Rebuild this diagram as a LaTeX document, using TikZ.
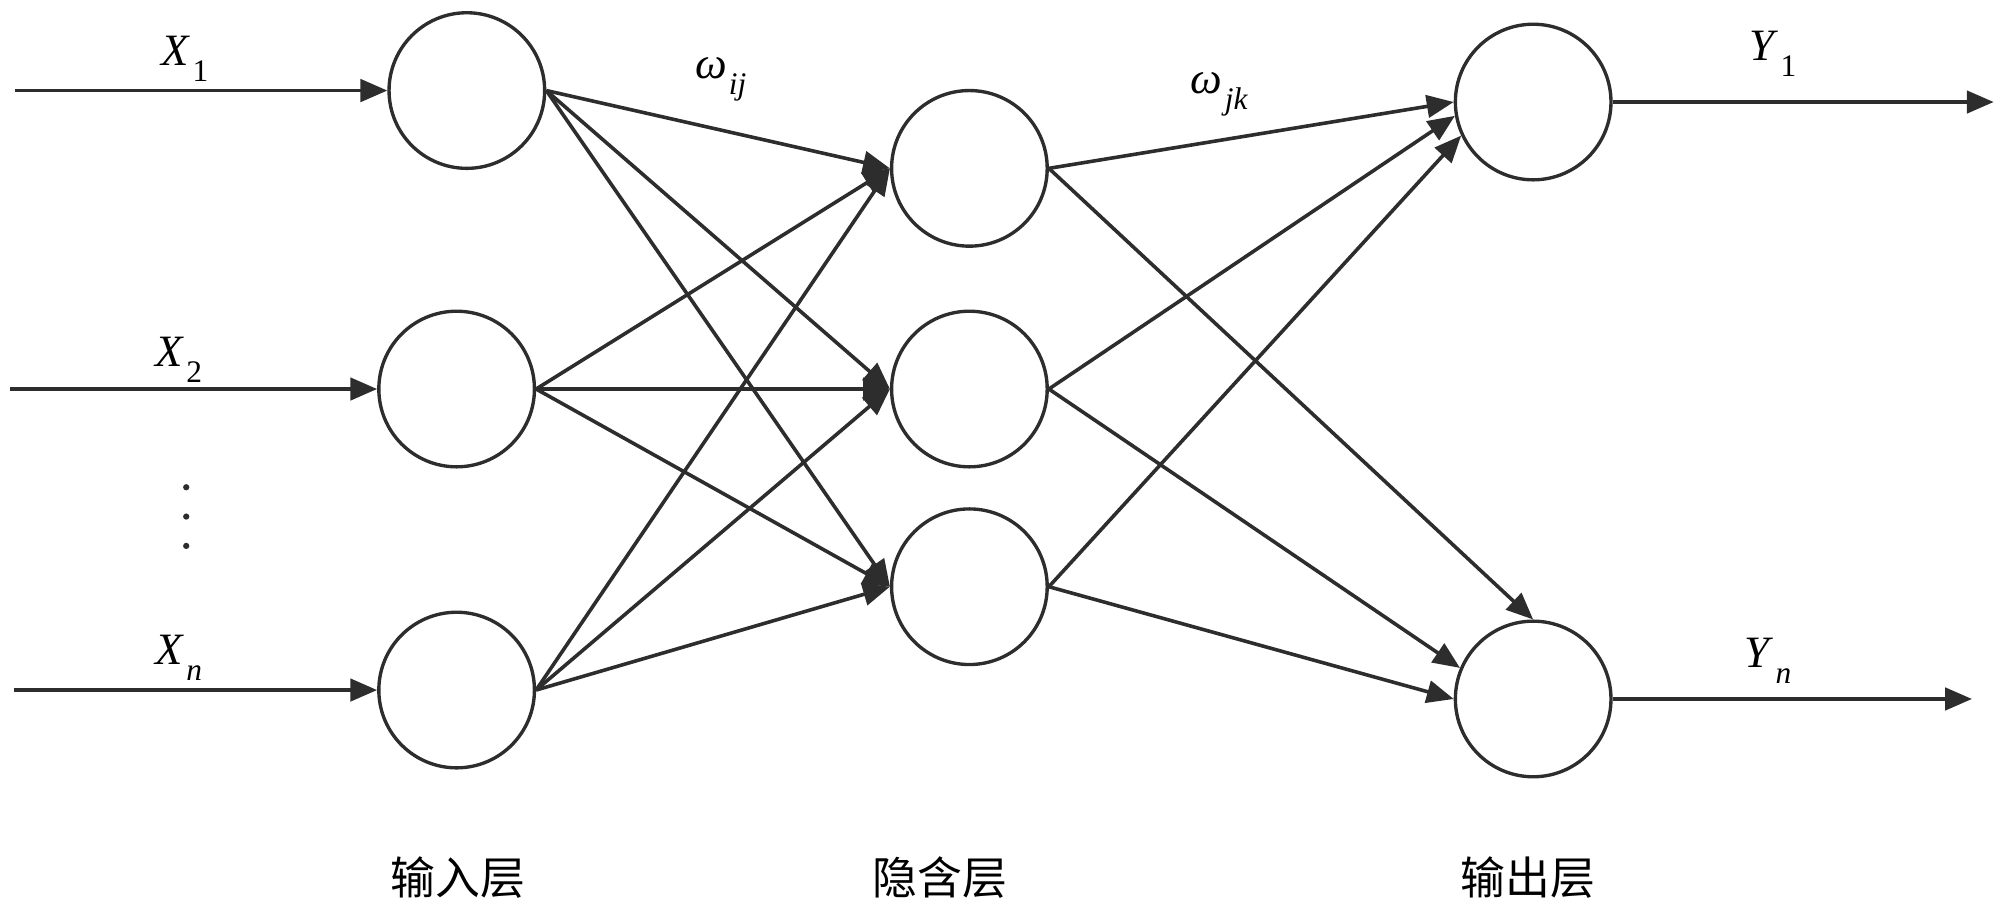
\documentclass[tikz,border=0pt]{standalone}
\usepackage{fontspec}
\setmainfont{Liberation Serif}
\newfontfamily\cjk{Noto Sans CJK SC}
\usepackage{tikz}
\usetikzlibrary{arrows.meta}
\definecolor{linegray}{RGB}{45,45,45}
\newcommand{\lsub}[2]{\textit{#1}\kern1pt\raisebox{-7pt}{\fontsize{14}{14}\selectfont #2}}

\begin{document}
\begin{tikzpicture}[font=\fontsize{20}{24}\selectfont]
    \tikzset{
        neuron/.style={circle, draw=linegray, line width=1.5pt, minimum size=2.44cm, inner sep=0pt},
        link/.style={draw=linegray, line width=1.6pt, -{Triangle[length=12pt, width=10pt]}}
    }
    \path[use as bounding box] (0, 0) rectangle (31.36, 14.38);

    % Input layer
    \node[neuron] (i1) at (7.32, 12.96) {};
    \node[neuron] (i2) at (7.16, 8.28) {};
    \node[neuron] (in) at (7.16, 3.56) {};

    % Hidden layer
    \node[neuron] (h1) at (15.2, 11.74) {};
    \node[neuron] (h2) at (15.2, 8.28) {};
    \node[neuron] (h3) at (15.2, 5.18) {};

    % Output layer
    \node[neuron] (o1) at (24.04, 12.78) {};
    \node[neuron] (on) at (24.04, 3.42) {};

    % Free ends of the input and output lines
    \coordinate (x1in) at (0.24, 12.96);
    \coordinate (x2in) at (0.16, 8.28);
    \coordinate (xnin) at (0.22, 3.56);
    \coordinate (y1out) at (31.26, 12.78);
    \coordinate (ynout) at (30.92, 3.42);

    % Inputs
    \draw[link] (x1in) -- (i1.west);
    \draw[link] (x2in) -- (i2.west);
    \draw[link] (xnin) -- (in.west);
    \node (lx1) at (2.9, 13.46) {\lsub{X}{1}};
    \node (lx2) at (2.8, 8.74) {\lsub{X}{2}};
    \node (lxn) at (2.8, 4.06) {\lsub{X}{\textit{n}}};
    \foreach \y in {6.74, 6.28, 5.82}
        \fill[linegray] (2.92, \y) circle (1.4pt);

    % Input -> hidden
    \foreach \i in {i1, i2, in}
        \foreach \h in {h1, h2, h3}
            \draw[link] (\i.east) -- (\h.west);
    \node (wij) at (11.3, 13.14) {\lsub{ω}{\textit{ij}}};

    % Hidden -> output
    \draw[link] (h1.east) -- (o1.west);
    \draw[link] (h2.east) -- (o1.190);
    \draw[link] (h3.east) -- (o1.205);
    \draw[link] (h1.east) -- (on.north);
    \draw[link] (h2.east) -- (on.157);
    \draw[link] (h3.east) -- (on.west);
    \node (wjk) at (19.12, 12.9) {\lsub{ω}{\textit{jk}}};

    % Outputs
    \draw[link] (o1.east) -- (y1out);
    \draw[link] (on.east) -- (ynout);
    \node (ly1) at (27.8, 13.54) {\lsub{Y}{1}};
    \node (lyn) at (27.72, 4.02) {\lsub{Y}{\textit{n}}};

    % Layer names
    \node (tin) at (7.18, 0.62) {\cjk 输入层};
    \node (thid) at (14.74, 0.62) {\cjk 隐含层};
    \node (tout) at (23.96, 0.62) {\cjk 输出层};

\end{tikzpicture}
\end{document}
